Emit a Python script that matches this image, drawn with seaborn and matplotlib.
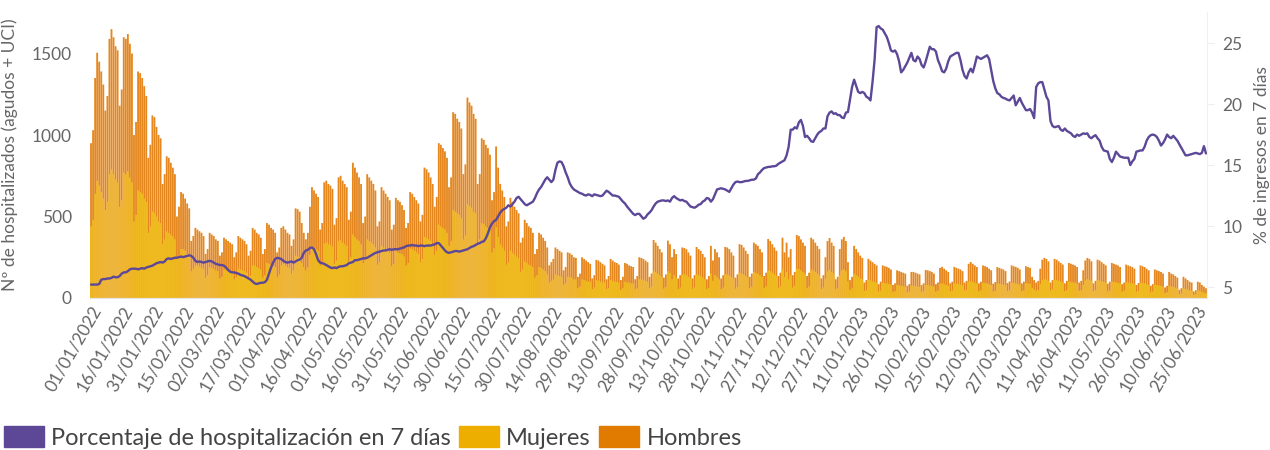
import pandas as pd
import numpy as np
import matplotlib.pyplot as plt
import seaborn as sns
from matplotlib.patches import Patch

# ============================================================
# 1. Data (daily, from 01/01/2022; one row = one week, Sat..Fri)
# ============================================================
start_date = "2022-01-01"

mujeres = [
    440, 480, 640, 720, 690, 650, 610,
    540, 590, 760, 790, 760, 730, 710,
    560, 600, 770, 760, 780, 740, 710,
    470, 510, 660, 650, 640, 610, 590,
    400, 440, 530, 520, 500, 470, 460,
    330, 360, 410, 400, 390, 380, 360,
    240, 260, 300, 300, 290, 270, 260,
    165, 180, 200, 200, 195, 185, 180,
    125, 140, 190, 185, 180, 170, 165,
    120, 130, 175, 170, 165, 160, 155,
    115, 130, 180, 175, 170, 165, 155,
    120, 135, 200, 200, 190, 185, 175,
    125, 140, 215, 210, 200, 200, 190,
    130, 145, 200, 210, 200, 190, 185,
    150, 170, 260, 255, 250, 215, 190,
    170, 190, 265, 320, 310, 300, 290,
    200, 215, 335, 340, 330, 325, 315,
    210, 230, 350, 355, 340, 330, 320,
    225, 250, 390, 375, 360, 350, 330,
    215, 235, 360, 350, 340, 330, 310,
    205, 220, 320, 310, 300, 290, 280,
    195, 210, 290, 280, 275, 270, 255,
    200, 215, 305, 300, 290, 280, 270,
    220, 240, 375, 370, 360, 350, 330,
    265, 290, 450, 440, 430, 420, 400,
    320, 350, 540, 530, 520, 510, 490,
    360, 385, 575, 565, 555, 530, 520,
    330, 360, 460, 455, 440, 430, 415,
    280, 305, 435, 375, 330, 310, 290,
    205, 220, 290, 275, 265, 255, 245,
    160, 175, 225, 215, 205, 200, 190,
    125, 140, 190, 185, 175, 165, 145,
    95, 105, 115, 145, 140, 135, 130,
    80, 90, 130, 130, 125, 115, 115,
    60, 70, 115, 110, 105, 100, 100,
    55, 65, 110, 105, 100, 95, 95,
    55, 60, 110, 105, 100, 100, 95,
    50, 60, 100, 95, 95, 90, 90,
    55, 60, 115, 115, 110, 105, 100,
    60, 70, 165, 160, 150, 140, 130,
    58, 68, 165, 155, 115, 140, 125,
    55, 65, 145, 145, 140, 130, 120,
    55, 65, 145, 140, 135, 125, 115,
    55, 62, 150, 105, 140, 130, 115,
    55, 65, 145, 145, 140, 130, 120,
    58, 68, 155, 152, 145, 135, 125,
    60, 70, 160, 155, 150, 140, 130,
    62, 72, 170, 165, 155, 145, 135,
    62, 72, 175, 130, 160, 115, 140,
    65, 75, 180, 178, 170, 160, 150,
    62, 72, 175, 170, 160, 150, 140,
    55, 65, 118, 165, 173, 160, 150,
    54, 60, 140, 170, 176, 165, 103,
    50, 60, 150, 140, 130, 120, 115,
    44, 50, 112, 108, 103, 98, 94,
    40, 46, 94, 91, 90, 87, 82,
    37, 42, 80, 77, 75, 73, 70,
    35, 40, 75, 75, 73, 70, 68,
    37, 42, 81, 80, 77, 75, 70,
    40, 45, 87, 90, 85, 80, 75,
    42, 47, 90, 87, 85, 82, 77,
    45, 49, 99, 104, 99, 94, 89,
    42, 47, 94, 92, 89, 85, 80,
    41, 46, 89, 87, 85, 82, 78,
    43, 48, 94, 92, 90, 87, 82,
    42, 47, 92, 89, 87, 61, 52,
    45, 49, 85, 110, 116, 113, 106,
    45, 52, 113, 110, 106, 101, 96,
    42, 49, 101, 99, 96, 94, 89,
    45, 49, 80, 108, 116, 113, 106,
    42, 49, 110, 108, 103, 99, 94,
    41, 47, 101, 99, 96, 94, 89,
    40, 45, 96, 94, 92, 89, 85,
    38, 43, 94, 92, 89, 85, 80,
    35, 40, 82, 80, 78, 75, 70,
    31, 35, 75, 70, 68, 63, 59,
    24, 28, 61, 56, 52, 47, 45,
    19, 23, 47, 45, 38, 33, 28,
]

hombres = [
    510, 550, 710, 785, 760, 740, 700,
    610, 650, 830, 860, 840, 815, 810,
    620, 680, 830, 830, 840, 820, 790,
    530, 570, 730, 730, 710, 690, 650,
    460, 500, 590, 590, 550, 530, 520,
    370, 400, 460, 460, 440, 420, 400,
    260, 300, 350, 340, 320, 310, 290,
    185, 200, 230, 220, 215, 215, 200,
    145, 160, 210, 205, 200, 190, 185,
    140, 150, 195, 190, 185, 180, 175,
    135, 150, 200, 195, 190, 185, 175,
    140, 155, 230, 220, 210, 205, 195,
    145, 160, 245, 240, 230, 220, 210,
    150, 165, 230, 230, 220, 210, 205,
    170, 190, 290, 290, 280, 245, 210,
    190, 210, 295, 360, 350, 340, 330,
    220, 245, 375, 380, 370, 365, 355,
    240, 260, 390, 395, 380, 370, 360,
    255, 280, 440, 425, 410, 390, 370,
    245, 265, 400, 390, 380, 370, 350,
    235, 250, 360, 350, 340, 330, 320,
    225, 240, 325, 320, 315, 300, 285,
    230, 245, 345, 340, 330, 320, 310,
    250, 270, 425, 420, 410, 390, 370,
    295, 330, 500, 500, 490, 480, 460,
    360, 390, 600, 600, 580, 570, 550,
    400, 435, 655, 635, 625, 600, 580,
    370, 400, 520, 515, 500, 490, 465,
    320, 345, 495, 425, 370, 350, 330,
    235, 250, 325, 315, 295, 285, 275,
    180, 195, 255, 245, 235, 230, 210,
    145, 160, 210, 205, 195, 185, 165,
    105, 115, 125, 165, 160, 155, 150,
    90, 100, 150, 145, 140, 135, 131,
    70, 80, 135, 130, 125, 120, 110,
    65, 75, 124, 125, 120, 115, 105,
    60, 75, 130, 125, 120, 115, 110,
    60, 70, 115, 115, 105, 105, 100,
    60, 75, 135, 131, 130, 125, 120,
    70, 80, 191, 180, 170, 160, 150,
    67, 77, 187, 175, 135, 160, 145,
    65, 75, 165, 162, 160, 150, 140,
    65, 75, 168, 160, 155, 145, 135,
    60, 73, 170, 125, 160, 150, 135,
    65, 75, 168, 165, 160, 150, 140,
    67, 77, 175, 174, 165, 155, 145,
    70, 80, 180, 175, 170, 160, 150,
    73, 83, 192, 185, 175, 165, 155,
    73, 83, 195, 150, 180, 135, 160,
    75, 85, 207, 202, 190, 180, 170,
    73, 83, 195, 190, 180, 170, 160,
    65, 75, 132, 185, 195, 180, 170,
    61, 70, 160, 190, 199, 185, 117,
    60, 70, 170, 160, 150, 140, 131,
    51, 60, 128, 122, 117, 112, 106,
    45, 54, 106, 104, 101, 98, 93,
    43, 48, 90, 88, 85, 82, 80,
    40, 45, 85, 85, 82, 80, 77,
    43, 48, 91, 90, 88, 85, 80,
    45, 50, 98, 101, 95, 90, 85,
    48, 53, 101, 98, 95, 93, 88,
    50, 56, 111, 117, 111, 106, 101,
    48, 53, 106, 103, 101, 95, 90,
    47, 52, 101, 98, 95, 93, 87,
    49, 54, 106, 103, 101, 98, 93,
    48, 53, 103, 101, 98, 69, 58,
    50, 56, 95, 125, 130, 127, 119,
    50, 58, 127, 125, 119, 114, 109,
    48, 56, 114, 111, 109, 106, 101,
    50, 56, 90, 122, 130, 127, 119,
    48, 56, 125, 122, 117, 111, 106,
    47, 53, 114, 111, 109, 106, 101,
    45, 50, 109, 106, 103, 101, 95,
    42, 49, 106, 103, 101, 95, 90,
    40, 45, 93, 90, 87, 85, 80,
    34, 40, 85, 80, 77, 72, 66,
    26, 32, 69, 64, 58, 53, 50,
    21, 25, 53, 50, 42, 37, 32,
]

porcentaje = [
    5.2, 5.2, 5.2, 5.2, 5.25, 5.6, 5.65,
    5.65, 5.7, 5.7, 5.75, 5.85, 5.8, 5.8,
    5.9, 6.1, 6.2, 6.2, 6.3, 6.45, 6.5,
    6.5, 6.5, 6.45, 6.5, 6.55, 6.5, 6.6,
    6.65, 6.7, 6.75, 6.85, 6.95, 7.0, 7.05,
    7.0, 7.1, 7.3, 7.35, 7.3, 7.35, 7.4,
    7.4, 7.45, 7.5, 7.45, 7.5, 7.55, 7.6,
    7.55, 7.4, 7.15, 7.05, 7.1, 7.05, 7.0,
    7.05, 7.1, 7.15, 7.1, 7.0, 6.9, 6.85,
    6.8, 6.8, 6.75, 6.6, 6.4, 6.25, 6.2,
    6.2, 6.15, 6.1, 6.0, 5.95, 5.9, 5.8,
    5.7, 5.6, 5.45, 5.3, 5.25, 5.3, 5.35,
    5.35, 5.4, 5.6, 6.1, 6.6, 7.0, 7.3,
    7.4, 7.35, 7.3, 7.15, 7.05, 7.0, 7.05,
    7.1, 7.0, 7.1, 7.2, 7.25, 7.4, 7.8,
    8.0, 8.05, 8.2, 8.25, 8.1, 7.7, 7.2,
    7.0, 6.95, 6.9, 6.8, 6.7, 6.6, 6.55,
    6.6, 6.55, 6.65, 6.7, 6.7, 6.75, 6.8,
    6.95, 7.0, 7.05, 7.2, 7.2, 7.25, 7.3,
    7.35, 7.35, 7.4, 7.5, 7.6, 7.7, 7.8,
    7.85, 7.9, 7.95, 8.0, 8.0, 8.05, 8.1,
    8.05, 8.1, 8.1, 8.1, 8.15, 8.2, 8.25,
    8.35, 8.4, 8.4, 8.45, 8.4, 8.4, 8.35,
    8.4, 8.4, 8.35, 8.4, 8.4, 8.4, 8.45,
    8.5, 8.6, 8.6, 8.4, 8.2, 8.0, 7.85,
    7.8, 7.85, 7.9, 7.95, 7.95, 7.9, 7.95,
    8.0, 8.05, 8.1, 8.2, 8.3, 8.35, 8.45,
    8.55, 8.6, 8.7, 8.75, 9.0, 9.4, 9.9,
    10.2, 10.4, 10.5, 10.8, 11.1, 11.3, 11.4,
    11.5, 11.7, 11.6, 11.8, 12.0, 12.3, 12.4,
    12.2, 12.0, 11.8, 11.7, 11.8, 11.9, 12.0,
    12.3, 12.7, 13.0, 13.2, 13.5, 13.8, 14.0,
    13.8, 13.6, 13.8, 14.6, 15.2, 15.3, 15.25,
    14.9, 14.4, 14.0, 13.5, 13.2, 13.0, 12.9,
    12.8, 12.7, 12.65, 12.55, 12.5, 12.6, 12.55,
    12.45, 12.6, 12.55, 12.5, 12.45, 12.5, 12.7,
    12.9, 12.8, 12.65, 12.5, 12.5, 12.45, 12.4,
    12.2, 12.0, 11.85, 11.6, 11.4, 11.2, 11.0,
    10.9, 11.0, 11.0, 10.8, 10.6, 10.7, 10.95,
    11.1, 11.3, 11.6, 11.85, 12.0, 12.05, 12.1,
    12.1, 12.05, 12.1, 12.0, 12.3, 12.45, 12.3,
    12.2, 12.1, 12.15, 12.05, 12.0, 11.8, 11.6,
    11.55, 11.5, 11.6, 11.75, 11.8, 12.0, 12.1,
    12.3, 12.25, 12.0, 12.2, 12.6, 13.0, 13.05,
    13.1, 13.05, 13.0, 12.9, 12.8, 13.1, 13.4,
    13.6, 13.65, 13.6, 13.6, 13.65, 13.7, 13.7,
    13.75, 13.8, 13.8, 13.9, 14.25, 14.4, 14.6,
    14.75, 14.8, 14.85, 14.85, 14.9, 14.9, 14.95,
    15.1, 15.2, 15.3, 15.4, 15.8, 16.5, 17.9,
    17.9, 18.1, 18.0, 18.5, 18.7, 18.2, 17.3,
    17.4, 17.2, 16.95, 16.9, 17.2, 17.5, 17.7,
    17.8, 18.0, 18.0, 19.0, 19.3, 19.4, 19.2,
    19.25, 19.1, 19.1, 18.9, 18.85, 19.3, 19.35,
    20.4, 21.4, 22.0, 21.5, 21.0, 20.9, 21.0,
    20.9, 20.6, 20.5, 20.3, 21.8, 23.6, 26.3,
    26.4, 26.2, 26.1, 25.8, 25.5, 25.0, 24.4,
    24.3, 24.4, 24.1, 23.5, 22.6, 22.8, 23.1,
    23.4, 23.8, 24.2, 23.6, 23.5, 23.9, 23.7,
    23.2, 23.0, 23.5, 24.1, 24.7, 24.5, 24.5,
    24.3, 23.6, 23.2, 22.7, 22.6, 22.9, 23.5,
    23.9, 24.0, 24.1, 24.2, 24.2, 23.6, 22.8,
    22.3, 22.1, 22.6, 22.9, 22.6, 23.2, 23.9,
    23.8, 23.7, 23.8, 23.9, 24.0, 23.7, 22.8,
    21.9, 21.3, 20.9, 20.8, 20.6, 20.5, 20.45,
    20.35, 20.3, 20.5, 20.7, 19.9, 20.2, 20.5,
    20.1, 19.8, 19.5, 19.5, 19.6, 19.3, 18.85,
    21.4, 21.7, 21.8, 21.8, 21.2, 20.6, 20.3,
    18.6, 18.2, 18.1, 18.15, 18.2, 17.9, 17.8,
    18.0, 17.8, 17.7, 17.6, 17.4, 17.3, 17.5,
    17.4, 17.5, 17.6, 17.55, 17.6, 17.3, 17.2,
    17.35, 17.45, 17.2, 17.0, 16.5, 16.2, 16.15,
    16.1, 15.5, 15.25, 15.6, 16.1, 15.9, 15.7,
    15.65, 15.6, 15.6, 15.6, 15.0, 15.3, 15.5,
    16.1, 16.15, 16.2, 16.2, 16.5, 17.0, 17.3,
    17.45, 17.5, 17.45, 17.3, 17.0, 16.6, 16.8,
    17.1, 17.5, 17.3, 17.2, 17.4, 17.2, 17.0,
    16.7, 16.4, 16.1, 15.8, 15.8, 15.85, 15.9,
    15.95, 16.0, 15.95, 15.9, 16.0, 16.55, 15.95,
]

df = pd.DataFrame({
    "fecha": pd.date_range(start_date, periods=len(mujeres), freq="D"),
    "Mujeres": mujeres,
    "Hombres": hombres,
    "Porcentaje": porcentaje,
})
df["pos"] = np.arange(len(df))
df["total"] = df["Mujeres"] + df["Hombres"]

# ============================================================
# 2. Style
# ============================================================
sns.set_style("white")
plt.rcParams['font.family'] = ['Lato', 'DejaVu Sans']

c_purple = "#5C4897"
c_yellow_bar = "#EFB920"
c_orange_bar = "#E5871F"
c_yellow = "#EDAE00"
c_orange = "#E07B00"
txt = "#666666"

fig = plt.figure(figsize=(12.7, 4.5), dpi=100)
ax = fig.add_axes([90 / 1270, 1 - 298 / 450, (1207 - 90) / 1270, (298 - 12) / 450])

# stacked bars: total (hombres on top) first, mujeres over it
sns.barplot(data=df, x="pos", y="total", color=c_orange_bar, saturation=1,
            width=0.9, linewidth=0, ax=ax)
sns.barplot(data=df, x="pos", y="Mujeres", color=c_yellow_bar, saturation=1,
            width=0.9, linewidth=0, ax=ax)
# thin bars: no pixel snapping, so every day shows up evenly
for p in ax.patches:
    p.set_snap(False)

ax2 = ax.twinx()
sns.lineplot(data=df, x="pos", y="Porcentaje", color=c_purple, linewidth=1.7, ax=ax2)

ax.set_xlim(-0.5, len(df) - 0.5)
ax.set_ylim(0, 1755)
ax2.set_ylim(4.1, 27.55)

tick_pos = df["pos"].values[::15]
tick_lab = df["fecha"].dt.strftime("%d/%m/%Y").values[::15]
ax.set_xticks(tick_pos)
ax.set_xticklabels(tick_lab, rotation=60, ha="right", rotation_mode="anchor",
                   fontsize=12.5, color=txt)
ax.tick_params(axis="x", length=0, pad=4)

ax.set_yticks([0, 500, 1000, 1500])
ax.tick_params(axis="y", length=0, pad=13, labelsize=12.5, labelcolor=txt)
ax2.set_yticks([5, 10, 15, 20, 25])
ax2.tick_params(axis="y", length=5, width=0.8, color="#eeeeee", pad=6,
                labelsize=12.5, labelcolor=txt)

ax.set_xlabel("")
ax.set_ylabel("Nº de hospitalizados (agudos + UCI)", fontsize=12.5, color=txt, labelpad=10)
ax2.set_xlabel("")
ax2.set_ylabel("% de ingresos en 7 días", fontsize=12.5, color=txt, labelpad=8)

for a in (ax, ax2):
    for s in ("top", "left", "right"):
        a.spines[s].set_visible(False)
    a.spines["bottom"].set_color("#e6e6e6")
ax2.spines["right"].set_visible(True)
ax2.spines["right"].set_color("#f0f0f0")

# ============================================================
# 3. Legend
# ============================================================
handles = [Patch(facecolor=c_purple, edgecolor=c_purple),
           Patch(facecolor=c_yellow, edgecolor=c_yellow),
           Patch(facecolor=c_orange, edgecolor=c_orange)]
labels = ["Porcentaje de hospitalización en 7 días", "Mujeres", "Hombres"]
fig.legend(handles, labels, loc="center left", bbox_to_anchor=(0.003, 0.028),
           ncol=3, frameon=False, fontsize=17, labelcolor="#444444",
           handlelength=1.7, handleheight=0.95, handletextpad=0.3,
           columnspacing=0.35, borderaxespad=0, borderpad=0)

plt.savefig("out.png", dpi=100)
